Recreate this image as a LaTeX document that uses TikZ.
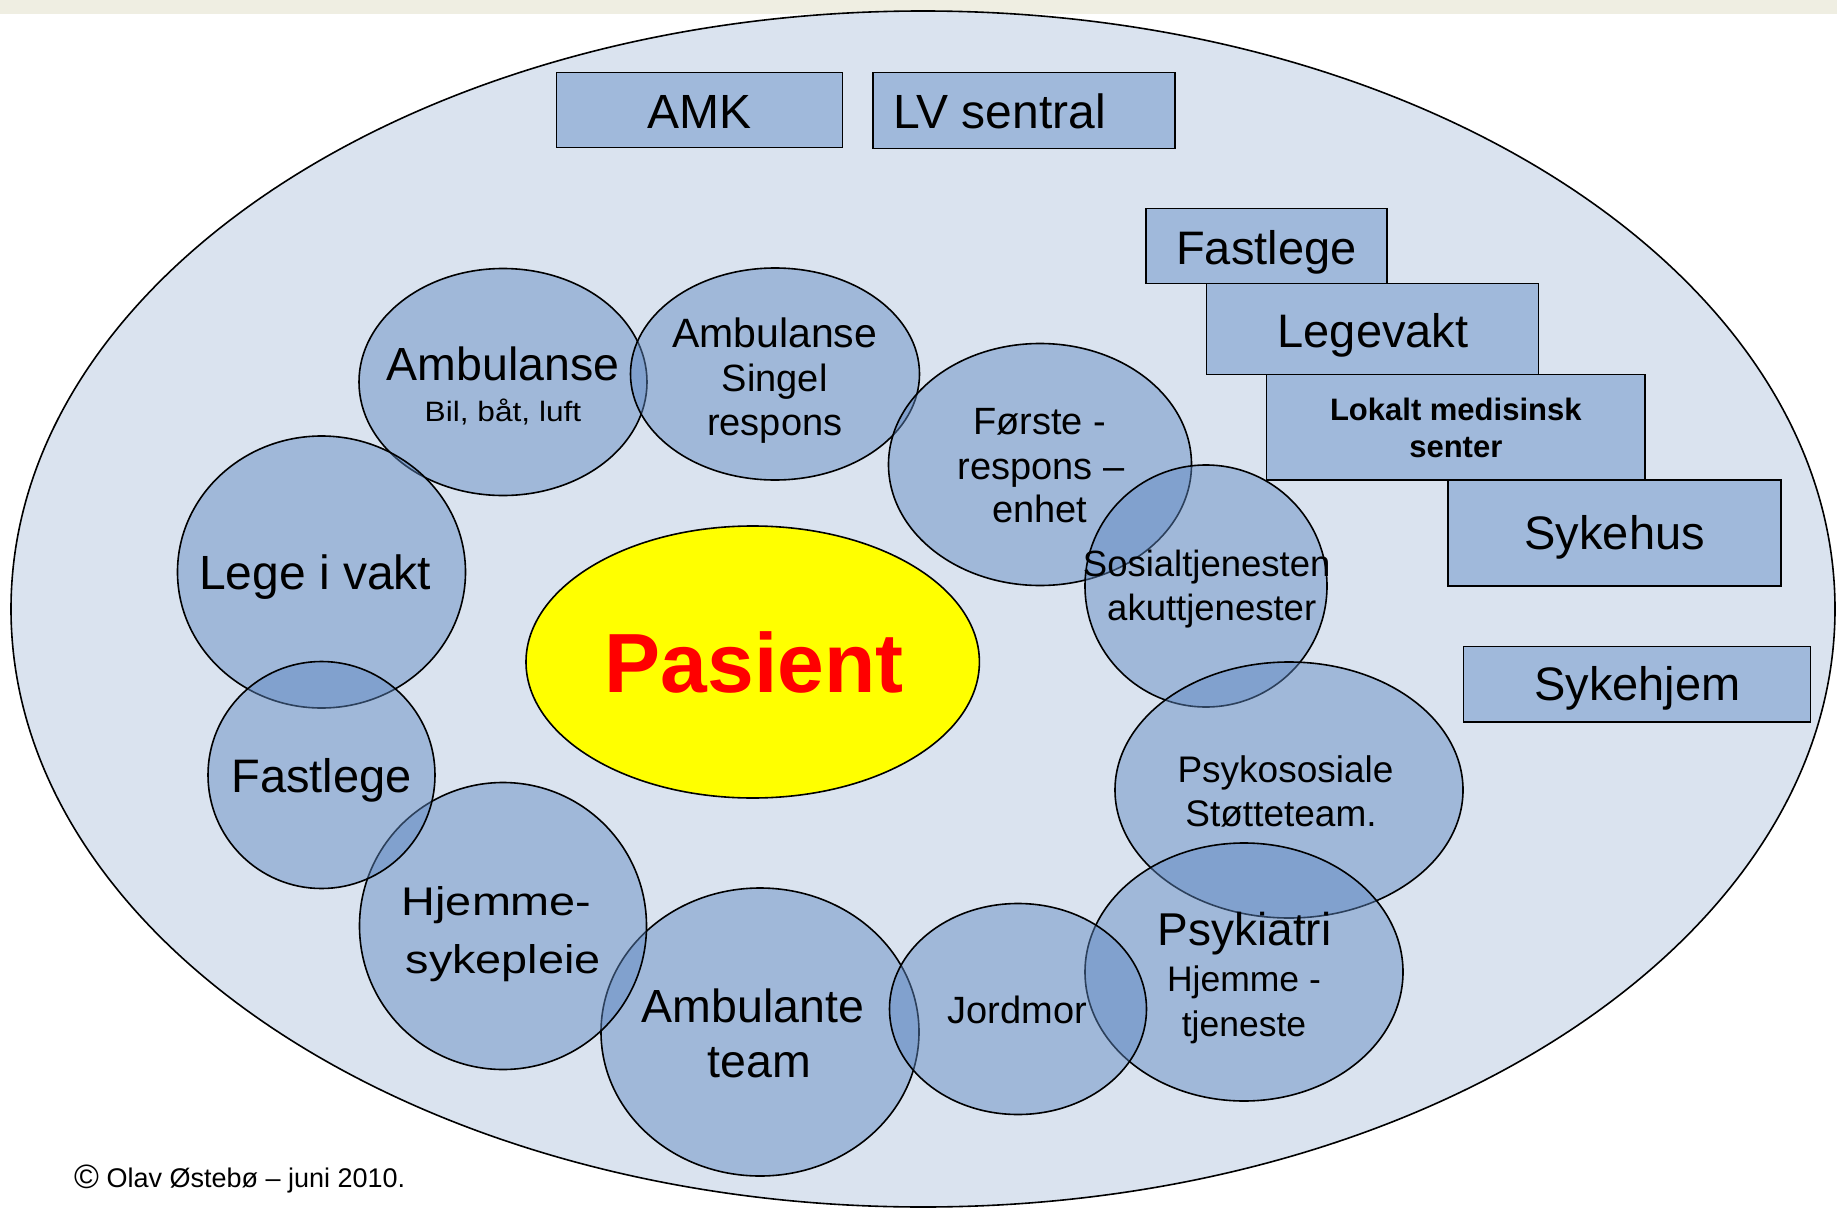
\documentclass[tikz,border=0pt]{standalone}
\usepackage{fontspec}
\setmainfont{Liberation Sans}
\usepackage{graphicx}
\definecolor{strip}{HTML}{EFEEE2}
\definecolor{outerfill}{HTML}{DAE3EF}
\definecolor{boxfill}{HTML}{A0B9DB}
\definecolor{bubfill}{RGB}{95,136,194}
\definecolor{pasred}{HTML}{FF0000}
\definecolor{pasyellow}{HTML}{FFFF00}
\begin{document}
\begin{tikzpicture}[x=1pt,y=-1pt,
  fs/.style={font=\fontsize{#1}{#1}\selectfont},
  fsb/.style={font=\fontsize{#1}{#1}\selectfont\bfseries},
  lbl/.style={inner sep=0pt, anchor=base},
  bub/.style={draw=black, line width=1.6pt, fill=bubfill, fill opacity=0.47, draw opacity=1},
  boxn/.style={draw=black, line width=1.6pt, fill=boxfill},
]
\useasboundingbox (0,0) rectangle (1837,1212);
\fill[white] (0,0) rectangle (1837,1212);
\fill[strip] (0,0) rectangle (1837,14);
% outer ellipse
\path[draw=black, line width=1.6pt, fill=outerfill] (923,609) ellipse [x radius=912, y radius=598];

% boxes
\path[boxn] (556.5,72.5) rectangle (842.5,147.5);
\node[lbl, fs=48] (amk) at (699.5,128.3) {AMK};
\path[boxn] (872.8,72.5) rectangle (1175,148.5);
\node[lbl, fs=48, anchor=base west] (lv) at (893,128.3) {LV sentral};
\path[boxn] (1145.8,208.5) rectangle (1387.2,283.5);
\node[lbl, fs=47] (fl) at (1266.4,264.3) {Fastlege};
\path[boxn] (1206.5,283.5) rectangle (1538.4,374.5);
\node[lbl, fs=47] (lgv) at (1373,347) {Legevakt};
\path[boxn] (1266.5,374.5) rectangle (1644.9,480);
\node[lbl, fsb=31] (lok1) at (1455.8,420) {Lokalt medisinsk};
\node[lbl, fsb=31] (lok2) at (1455.8,457) {senter};
\path[boxn] (1448,480) rectangle (1781,586);
\node[lbl, fs=47] (syh) at (1614.7,549) {Sykehus};
\path[boxn] (1463.3,646.5) rectangle (1810.5,722);
\node[lbl, fs=47] (syj) at (1637.4,700.7) {Sykehjem};

% bubbles
\path[bub] (503,382) ellipse [x radius=144, y radius=113.5];
\node[lbl, fs=46.5] (amb1) at (503,380) {Ambulanse};
\node[lbl, fs=28] (amb2) at (503,421.7) {\scalebox{1.13}[1]{Bil, båt, luft}};

\path[bub] (775,374) ellipse [x radius=144.5, y radius=106];
\node[lbl, fs=41] (sin1) at (774.7,347) {Ambulanse};
\node[lbl, fs=38] (sin2) at (774.7,391) {Singel};
\node[lbl, fs=38] (sin3) at (774.7,435) {respons};

\path[bub] (1040,464.5) ellipse [x radius=151.5, y radius=121];
\node[lbl, fs=38] (fr1) at (1039.7,434) {Første -};
\node[lbl, fs=38] (fr2) at (1040.8,479.3) {respons –};
\node[lbl, fs=38] (fr3) at (1039.7,522.7) {enhet};

\path[bub] (1206,586) ellipse [x radius=121, y radius=121];
\node[lbl, fs=36.5] (sos1) at (1206.7,576) {Sosialtjenesten};
\node[lbl, fs=36.5] (sos2) at (1211.7,620.7) {akuttjenester};

\path[bub] (1289,790) ellipse [x radius=174, y radius=128];
\node[lbl, fs=37] (ps1) at (1285.5,782.3) {Psykososiale};
\node[lbl, fs=37] (ps2) at (1281,826) {Støtteteam.};

\path[bub] (1244,972) ellipse [x radius=159, y radius=129];
\node[lbl, fs=46] (pk1) at (1244.5,945) {Psykiatri};
\node[lbl, fs=35.5] (pk2) at (1244,991.7) {Hjemme -};
\node[lbl, fs=35.5] (pk3) at (1244,1036) {tjeneste};

\path[bub] (760,1032) ellipse [x radius=159, y radius=144];
\node[lbl, fs=46.5] (at1) at (753,1022) {Ambulante};
\node[lbl, fs=46.5] (at2) at (759.2,1077) {team};

\path[bub] (1018,1009) ellipse [x radius=128.5, y radius=105.5];
\node[lbl, fs=38] (jm) at (1017.2,1023.3) {Jordmor};

\path[bub] (503,926) ellipse [x radius=143.5, y radius=143.5];
\node[lbl, fs=40] (hj1) at (496.7,915) {\scalebox{1.17}[1]{Hjemme-}};
\node[lbl, fs=40] (hj2) at (503.3,973.3) {\scalebox{1.17}[1]{sykepleie}};

\path[bub] (321.5,572) ellipse [x radius=144, y radius=136];
\node[lbl, fs=48] (lv1) at (315.3,589.3) {Lege i vakt};

\path[bub] (321.5,775) ellipse [x radius=113.5, y radius=113.5];
\node[lbl, fs=47] (fl2) at (321.7,792.7) {Fastlege};

% patient
\path[draw=black, line width=1.6pt, fill=pasyellow] (752.7,662) ellipse [x radius=226.7, y radius=136];
\node[lbl, fsb=84, text=pasred] (pas) at (754,692.7) {Pasient};

% copyright
\node[lbl, fs=27, anchor=base west] (copy) at (74,1187) {\raisebox{-1pt}{\scalebox{1.25}{©}} Olav Østebø – juni 2010.};
\end{tikzpicture}
\end{document}
